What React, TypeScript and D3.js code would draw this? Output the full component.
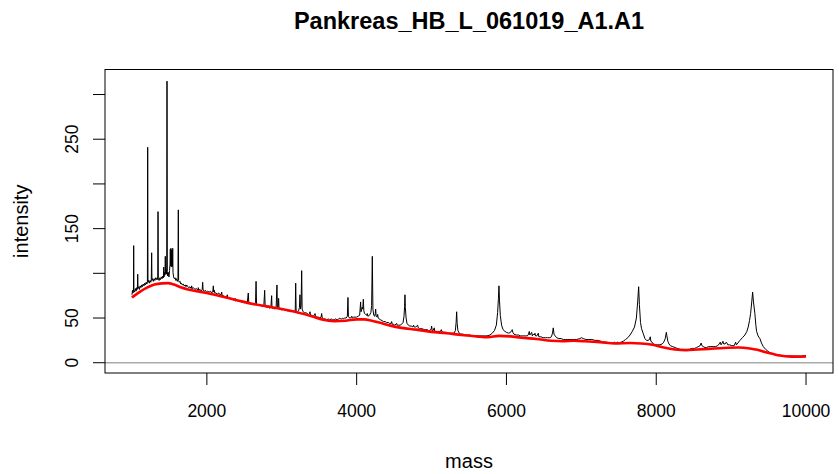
import * as d3 from "d3";
import * as React from "react";

// black spectrum: [mass, intensity]
const spectrum: [number, number][] = [
  [1000, 76], [1008, 81], [1015, 78], [1020, 80], [1023, 131], [1026, 81], [1035, 79], [1045, 83],
  [1055, 80], [1065, 84], [1072, 82], [1077, 99], [1081, 83], [1092, 85], [1100, 82], [1110, 86],
  [1120, 84], [1130, 87], [1140, 85], [1150, 88], [1160, 86], [1170, 89], [1180, 87], [1190, 90],
  [1200, 88], [1206, 91], [1210, 241], [1214, 90], [1222, 92], [1232, 89], [1242, 92], [1252, 90],
  [1258, 93], [1263, 123], [1267, 92], [1276, 94], [1286, 91], [1296, 94], [1306, 92], [1316, 95],
  [1326, 93], [1336, 95], [1344, 93], [1348, 169], [1352, 94], [1362, 92], [1372, 95], [1382, 93],
  [1392, 96], [1402, 94], [1412, 97], [1420, 95], [1424, 107], [1428, 96], [1436, 101], [1441, 98],
  [1445, 119], [1449, 100], [1455, 104], [1460, 99], [1464, 106], [1468, 315], [1472, 102],
  [1478, 97], [1486, 101], [1494, 96], [1502, 103], [1508, 110], [1512, 127], [1516, 108],
  [1520, 128], [1524, 109], [1528, 126], [1532, 107], [1537, 118], [1541, 108], [1544, 128],
  [1548, 101], [1556, 96], [1566, 94], [1576, 95], [1586, 92], [1596, 94], [1606, 91], [1614, 93],
  [1619, 171], [1623, 92], [1632, 90], [1642, 91], [1652, 88], [1662, 89], [1672, 87], [1684, 88],
  [1696, 86], [1710, 87], [1722, 85], [1730, 87], [1745, 85], [1760, 84], [1775, 85], [1790, 83],
  [1797, 86], [1803, 83], [1820, 84], [1840, 82], [1860, 83], [1880, 81], [1886, 84], [1892, 81],
  [1910, 82], [1925, 80], [1938, 82], [1944, 90], [1950, 81], [1965, 80], [1980, 81], [1995, 79],
  [2010, 80], [2030, 79], [2050, 80], [2065, 78], [2080, 80], [2086, 86], [2092, 79], [2100, 81],
  [2106, 78], [2120, 78], [2140, 77], [2160, 78], [2175, 76], [2190, 76], [2198, 79], [2205, 75],
  [2220, 75], [2240, 74], [2260, 73], [2273, 76], [2280, 72], [2300, 72], [2320, 71], [2340, 71],
  [2360, 70], [2376, 72], [2382, 69], [2400, 70], [2420, 69], [2440, 69], [2460, 68], [2480, 68],
  [2500, 67], [2520, 68], [2540, 67], [2553, 78], [2560, 67], [2580, 66], [2600, 66], [2620, 65],
  [2640, 66], [2650, 67], [2657, 91], [2663, 66], [2680, 65], [2700, 64], [2720, 64], [2740, 63],
  [2760, 63], [2772, 81], [2778, 63], [2800, 62], [2820, 62], [2840, 61], [2855, 62], [2865, 75],
  [2870, 61], [2890, 61], [2910, 60], [2925, 62], [2936, 87], [2942, 61], [2950, 62], [2958, 72],
  [2964, 60], [2980, 60], [3000, 59], [3020, 60], [3040, 59], [3060, 59], [3080, 58], [3100, 58],
  [3120, 57], [3140, 58], [3160, 57], [3180, 58], [3186, 89], [3192, 58], [3210, 57], [3225, 58],
  [3236, 62], [3243, 76], [3250, 60], [3258, 64], [3266, 103], [3272, 60], [3285, 57], [3300, 56],
  [3320, 56], [3340, 55], [3360, 54], [3370, 55], [3377, 57], [3384, 53], [3400, 53], [3420, 52],
  [3435, 53], [3444, 55], [3450, 52], [3470, 51], [3490, 51], [3510, 50], [3525, 51], [3533, 55],
  [3540, 50], [3560, 49], [3580, 49], [3600, 48], [3620, 49], [3640, 48], [3660, 49], [3680, 48],
  [3700, 48], [3720, 49], [3740, 48], [3760, 49], [3775, 50], [3785, 49], [3800, 49], [3815, 50],
  [3825, 49], [3840, 50], [3860, 50], [3876, 52], [3884, 73], [3890, 52], [3905, 50], [3920, 50],
  [3935, 52], [3942, 50], [3960, 51], [3980, 51], [4000, 51], [4020, 52], [4040, 53], [4048, 62],
  [4053, 68], [4058, 57], [4064, 58], [4072, 62], [4082, 60], [4089, 71], [4096, 58], [4105, 55],
  [4120, 54], [4135, 53], [4142, 55], [4150, 52], [4170, 53], [4190, 56], [4200, 64], [4209, 119],
  [4217, 60], [4228, 53], [4240, 52], [4248, 55], [4254, 60], [4260, 52], [4272, 51], [4280, 54],
  [4288, 50], [4300, 49], [4320, 48], [4340, 47], [4360, 46], [4380, 46], [4400, 45], [4420, 45],
  [4440, 44], [4460, 44], [4467, 46], [4475, 43], [4490, 43], [4510, 42], [4534, 44], [4540, 42],
  [4560, 42], [4580, 42], [4600, 43], [4620, 45], [4632, 52], [4640, 63], [4645, 76], [4650, 62],
  [4660, 50], [4672, 44], [4690, 42], [4710, 41], [4730, 41], [4750, 40], [4760, 42], [4768, 40],
  [4790, 40], [4815, 42], [4822, 39], [4840, 38], [4860, 38], [4880, 38], [4900, 37], [4920, 37],
  [4940, 37], [4960, 36], [4980, 36], [4995, 38], [5001, 41], [5008, 36], [5020, 36], [5030, 38],
  [5036, 39], [5042, 35], [5060, 35], [5080, 35], [5100, 35], [5120, 35], [5130, 37], [5137, 35],
  [5160, 34], [5180, 34], [5200, 34], [5220, 33], [5240, 33], [5260, 33], [5280, 33], [5300, 33],
  [5318, 36], [5328, 45], [5335, 57], [5342, 44], [5352, 36], [5370, 33], [5390, 32], [5420, 32],
  [5450, 31], [5480, 31], [5510, 31], [5540, 30], [5570, 30], [5600, 30], [5630, 30], [5660, 30],
  [5700, 30], [5740, 30], [5780, 31], [5810, 33], [5840, 36], [5865, 42], [5882, 56], [5893, 72],
  [5900, 86], [5907, 70], [5918, 53], [5935, 42], [5955, 37], [5980, 35], [6000, 34], [6030, 33],
  [6055, 34], [6070, 36], [6077, 37], [6085, 34], [6100, 32], [6130, 31], [6160, 31], [6190, 30],
  [6220, 30], [6250, 30], [6280, 30], [6295, 32], [6305, 35], [6312, 31], [6330, 33], [6337, 34],
  [6345, 30], [6360, 32], [6370, 31], [6381, 33], [6388, 30], [6405, 30], [6418, 32], [6425, 33],
  [6432, 29], [6460, 29], [6490, 28], [6520, 28], [6550, 28], [6580, 28], [6600, 29], [6615, 33],
  [6625, 39], [6635, 32], [6650, 30], [6670, 28], [6700, 27], [6730, 27], [6760, 26], [6790, 26],
  [6820, 26], [6860, 26], [6900, 26], [6940, 26], [6980, 27], [7004, 28], [7025, 27], [7060, 26],
  [7100, 26], [7140, 26], [7180, 25], [7220, 25], [7260, 24], [7300, 23], [7340, 23], [7380, 22],
  [7420, 22], [7440, 23], [7460, 22], [7480, 23], [7500, 22], [7530, 23], [7560, 24], [7590, 26],
  [7620, 28], [7650, 31], [7680, 35], [7710, 40], [7735, 50], [7752, 68], [7765, 85], [7775, 65],
  [7790, 45], [7804, 38], [7825, 33], [7849, 27], [7870, 25], [7890, 25], [7910, 26], [7920, 29],
  [7928, 24], [7945, 23], [7960, 21], [7990, 20], [8020, 20], [8050, 20], [8080, 21], [8100, 23],
  [8120, 27], [8135, 34], [8142, 30], [8155, 24], [8170, 21], [8190, 19], [8220, 18], [8250, 17],
  [8280, 16], [8320, 15], [8360, 15], [8400, 15], [8440, 15], [8480, 16], [8510, 16], [8539, 17],
  [8560, 18], [8585, 19], [8600, 22], [8610, 19], [8630, 18], [8651, 17], [8670, 17], [8700, 18],
  [8730, 18], [8760, 18], [8790, 18], [8820, 19], [8840, 21], [8855, 23], [8865, 20], [8880, 22],
  [8891, 24], [8900, 21], [8920, 21], [8935, 23], [8945, 22], [8955, 20], [8980, 20], [9010, 19],
  [9040, 19], [9050, 21], [9060, 23], [9070, 20], [9090, 22], [9117, 25], [9150, 28], [9184, 31],
  [9210, 35], [9228, 40], [9245, 47], [9260, 55], [9275, 68], [9287, 79], [9298, 68], [9317, 55],
  [9330, 42], [9340, 35], [9360, 30], [9384, 27], [9405, 22], [9429, 18], [9460, 15], [9490, 13],
  [9520, 11], [9562, 10], [9600, 9], [9640, 8.5], [9680, 8], [9720, 7.5], [9760, 7.5], [9820, 7.5],
  [9880, 7.5], [9940, 7.5], [9980, 8], [10000, 8],
];

// red baseline estimate
const baseline: [number, number][] = [
  [1000, 73], [1100, 79], [1200, 84], [1300, 87.5], [1400, 88.8], [1480, 89], [1560, 87.5],
  [1650, 84.5], [1750, 82], [1900, 79.5], [2000, 78], [2200, 74], [2400, 70], [2600, 66],
  [2800, 63], [3000, 60], [3200, 56.5], [3400, 52], [3550, 48], [3700, 46.5], [3850, 47],
  [4000, 48.5], [4100, 48.5], [4200, 47], [4300, 45], [4450, 41.5], [4600, 39], [4800, 37],
  [5000, 34.5], [5200, 33], [5400, 31], [5600, 29.5], [5750, 28.5], [5900, 30], [6050, 29.5],
  [6200, 28], [6400, 26.5], [6600, 24.5], [6750, 24], [6900, 24.5], [7050, 24], [7250, 23],
  [7450, 21.5], [7650, 22], [7800, 21.5], [7950, 20], [8100, 17], [8250, 14.8], [8400, 14],
  [8550, 14.8], [8700, 15.5], [8900, 16.5], [9100, 17], [9250, 16], [9350, 14.5], [9450, 12],
  [9550, 10], [9650, 8], [9800, 6.8], [9900, 6.7], [10000, 7],
];

const xTicks = [2000, 4000, 6000, 8000, 10000];
const yTicks = [0, 50, 100, 150, 200, 250, 300];
const yLabels = [0, 50, 150, 250];

const W = 839;
const H = 474;
const box = { left: 105, right: 833, top: 69.5, bottom: 373 };
const font = "'Liberation Sans', Arial, Helvetica, sans-serif";

export default function App() {
  const x = d3.scaleLinear().domain([640, 10360]).range([box.left, box.right]);
  const y = d3.scaleLinear().domain([-11.5, 328]).range([box.bottom, box.top]);

  const line = d3
    .line<[number, number]>()
    .x((d) => x(d[0]))
    .y((d) => y(d[1]));
  const smooth = d3
    .line<[number, number]>()
    .x((d) => x(d[0]))
    .y((d) => y(d[1]))
    .curve(d3.curveMonotoneX);

  return (
    <div style={{ position: "absolute", left: 0, top: 0 }}>
      <svg width={W} height={H} style={{ display: "block", background: "#fff" }} fontFamily={font}>
        {/* title */}
        <text x={(box.left + box.right) / 2} y={29} textAnchor="middle" fontSize={23.5} fontWeight="bold">
          Pankreas_HB_L_061019_A1.A1
        </text>

        {/* zero line */}
        <line x1={box.left} x2={box.right} y1={y(0)} y2={y(0)} stroke="#aaaaaa" strokeWidth={1.5} />

        {/* spectrum + baseline */}
        <path d={line(spectrum) ?? ""} fill="none" stroke="#000" strokeWidth={1} />
        <path d={smooth(baseline) ?? ""} fill="none" stroke="#ff0000" strokeWidth={2.6} />

        {/* box */}
        <rect
          x={box.left}
          y={box.top}
          width={box.right - box.left}
          height={box.bottom - box.top}
          fill="none"
          stroke="#000"
          strokeWidth={1}
        />

        {/* x axis */}
        {xTicks.map((t) => (
          <g key={t}>
            <line x1={x(t)} x2={x(t)} y1={box.bottom} y2={box.bottom + 12} stroke="#000" />
            <text x={x(t)} y={417} textAnchor="middle" fontSize={17.5}>
              {t}
            </text>
          </g>
        ))}
        <text x={(box.left + box.right) / 2} y={468} textAnchor="middle" fontSize={20}>
          mass
        </text>

        {/* y axis */}
        {yTicks.map((t) => (
          <line key={t} x1={box.left - 12} x2={box.left} y1={y(t)} y2={y(t)} stroke="#000" />
        ))}
        {yLabels.map((t) => (
          <text
            key={t}
            transform={`translate(78,${y(t)}) rotate(-90)`}
            textAnchor="middle"
            fontSize={17.5}
          >
            {t}
          </text>
        ))}
        <text
          transform={`translate(28,${(box.top + box.bottom) / 2}) rotate(-90)`}
          textAnchor="middle"
          fontSize={20}
        >
          intensity
        </text>
      </svg>
    </div>
  );
}
